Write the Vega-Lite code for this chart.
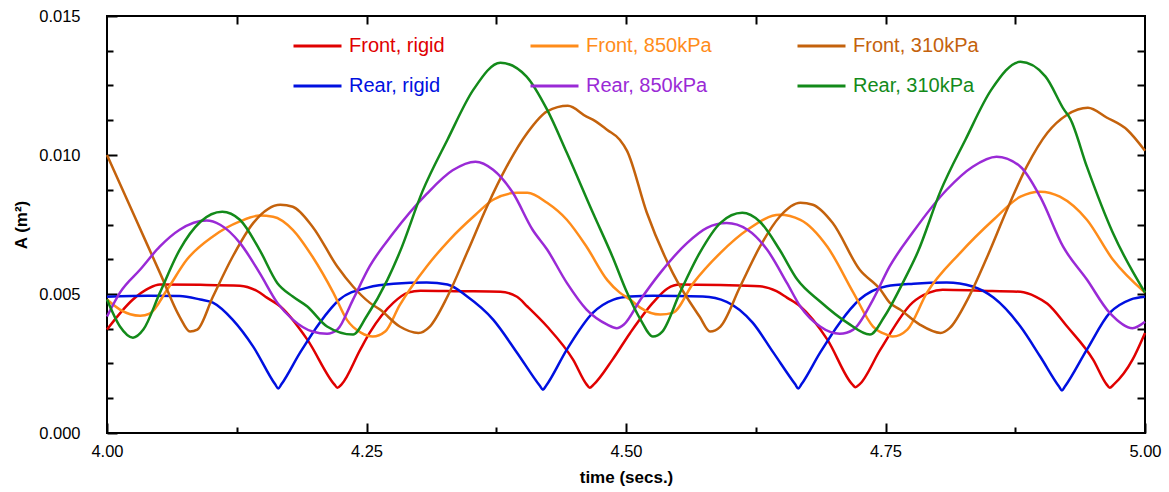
{
"$schema": "https://vega.github.io/schema/vega-lite/v6.json",
"width": 1038, "height": 417,
"autosize": {"type": "none"},
"padding": {"left": 107, "top": 16, "right": 24, "bottom": 59},
"background": "white",
"config": {
  "view": {"stroke": "black", "strokeWidth": 2},
  "font": "Liberation Sans",
  "axis": {"grid": false, "domain": false, "tickColor": "black", "tickWidth": 2, "labelFont": "Liberation Sans", "labelFontSize": 16.5, "labelColor": "black", "labelFlush": false, "titleFont": "Liberation Sans", "titleFontSize": 17, "titleFontWeight": "bold", "titleColor": "black"}
},
"data": {"values": [
{"s":"Front, rigid","t":4.000,"A":0.00372},{"s":"Front, rigid","t":4.025,"A":0.00480},{"s":"Front, rigid","t":4.040,"A":0.00520},{"s":"Front, rigid","t":4.051,"A":0.00534},{"s":"Front, rigid","t":4.090,"A":0.00533},{"s":"Front, rigid","t":4.128,"A":0.00530},{"s":"Front, rigid","t":4.145,"A":0.00510},{"s":"Front, rigid","t":4.154,"A":0.00487},{"s":"Front, rigid","t":4.167,"A":0.00455},{"s":"Front, rigid","t":4.193,"A":0.00336},{"s":"Front, rigid","t":4.219,"A":0.00175},{"s":"Front, rigid","t":4.222,"A":0.00163},{"s":"Front, rigid","t":4.226,"A":0.00175},{"s":"Front, rigid","t":4.244,"A":0.00300},{"s":"Front, rigid","t":4.253,"A":0.00360},{"s":"Front, rigid","t":4.276,"A":0.00469},{"s":"Front, rigid","t":4.290,"A":0.00505},{"s":"Front, rigid","t":4.302,"A":0.00512},{"s":"Front, rigid","t":4.340,"A":0.00510},{"s":"Front, rigid","t":4.379,"A":0.00508},{"s":"Front, rigid","t":4.395,"A":0.00490},{"s":"Front, rigid","t":4.405,"A":0.00455},{"s":"Front, rigid","t":4.424,"A":0.00383},{"s":"Front, rigid","t":4.449,"A":0.00264},{"s":"Front, rigid","t":4.462,"A":0.00175},{"s":"Front, rigid","t":4.465,"A":0.00163},{"s":"Front, rigid","t":4.469,"A":0.00175},{"s":"Front, rigid","t":4.487,"A":0.00264},{"s":"Front, rigid","t":4.504,"A":0.00360},{"s":"Front, rigid","t":4.526,"A":0.00469},{"s":"Front, rigid","t":4.540,"A":0.00520},{"s":"Front, rigid","t":4.552,"A":0.00534},{"s":"Front, rigid","t":4.591,"A":0.00532},{"s":"Front, rigid","t":4.629,"A":0.00528},{"s":"Front, rigid","t":4.645,"A":0.00510},{"s":"Front, rigid","t":4.655,"A":0.00487},{"s":"Front, rigid","t":4.668,"A":0.00455},{"s":"Front, rigid","t":4.694,"A":0.00336},{"s":"Front, rigid","t":4.718,"A":0.00175},{"s":"Front, rigid","t":4.721,"A":0.00165},{"s":"Front, rigid","t":4.725,"A":0.00175},{"s":"Front, rigid","t":4.745,"A":0.00300},{"s":"Front, rigid","t":4.776,"A":0.00469},{"s":"Front, rigid","t":4.792,"A":0.00505},{"s":"Front, rigid","t":4.805,"A":0.00515},{"s":"Front, rigid","t":4.841,"A":0.00512},{"s":"Front, rigid","t":4.880,"A":0.00508},{"s":"Front, rigid","t":4.895,"A":0.00490},{"s":"Front, rigid","t":4.906,"A":0.00465},{"s":"Front, rigid","t":4.925,"A":0.00383},{"s":"Front, rigid","t":4.950,"A":0.00264},{"s":"Front, rigid","t":4.963,"A":0.00175},{"s":"Front, rigid","t":4.966,"A":0.00163},{"s":"Front, rigid","t":4.970,"A":0.00175},{"s":"Front, rigid","t":4.988,"A":0.00264},{"s":"Front, rigid","t":5.000,"A":0.00360},
{"s":"Rear, rigid","t":4.000,"A":0.00490},{"s":"Rear, rigid","t":4.040,"A":0.00494},{"s":"Rear, rigid","t":4.070,"A":0.00493},{"s":"Rear, rigid","t":4.090,"A":0.00480},{"s":"Rear, rigid","t":4.102,"A":0.00469},{"s":"Rear, rigid","t":4.121,"A":0.00408},{"s":"Rear, rigid","t":4.141,"A":0.00310},{"s":"Rear, rigid","t":4.162,"A":0.00175},{"s":"Rear, rigid","t":4.165,"A":0.00160},{"s":"Rear, rigid","t":4.168,"A":0.00175},{"s":"Rear, rigid","t":4.186,"A":0.00289},{"s":"Rear, rigid","t":4.205,"A":0.00397},{"s":"Rear, rigid","t":4.224,"A":0.00480},{"s":"Rear, rigid","t":4.251,"A":0.00523},{"s":"Rear, rigid","t":4.276,"A":0.00537},{"s":"Rear, rigid","t":4.308,"A":0.00541},{"s":"Rear, rigid","t":4.328,"A":0.00534},{"s":"Rear, rigid","t":4.347,"A":0.00491},{"s":"Rear, rigid","t":4.372,"A":0.00408},{"s":"Rear, rigid","t":4.395,"A":0.00289},{"s":"Rear, rigid","t":4.417,"A":0.00170},{"s":"Rear, rigid","t":4.420,"A":0.00156},{"s":"Rear, rigid","t":4.423,"A":0.00170},{"s":"Rear, rigid","t":4.443,"A":0.00300},{"s":"Rear, rigid","t":4.468,"A":0.00432},{"s":"Rear, rigid","t":4.488,"A":0.00480},{"s":"Rear, rigid","t":4.504,"A":0.00491},{"s":"Rear, rigid","t":4.526,"A":0.00494},{"s":"Rear, rigid","t":4.574,"A":0.00491},{"s":"Rear, rigid","t":4.597,"A":0.00472},{"s":"Rear, rigid","t":4.622,"A":0.00397},{"s":"Rear, rigid","t":4.642,"A":0.00289},{"s":"Rear, rigid","t":4.663,"A":0.00175},{"s":"Rear, rigid","t":4.666,"A":0.00160},{"s":"Rear, rigid","t":4.669,"A":0.00175},{"s":"Rear, rigid","t":4.687,"A":0.00289},{"s":"Rear, rigid","t":4.706,"A":0.00397},{"s":"Rear, rigid","t":4.725,"A":0.00480},{"s":"Rear, rigid","t":4.751,"A":0.00528},{"s":"Rear, rigid","t":4.777,"A":0.00537},{"s":"Rear, rigid","t":4.809,"A":0.00541},{"s":"Rear, rigid","t":4.834,"A":0.00527},{"s":"Rear, rigid","t":4.854,"A":0.00487},{"s":"Rear, rigid","t":4.880,"A":0.00383},{"s":"Rear, rigid","t":4.899,"A":0.00275},{"s":"Rear, rigid","t":4.917,"A":0.00168},{"s":"Rear, rigid","t":4.920,"A":0.00153},{"s":"Rear, rigid","t":4.923,"A":0.00168},{"s":"Rear, rigid","t":4.944,"A":0.00300},{"s":"Rear, rigid","t":4.966,"A":0.00432},{"s":"Rear, rigid","t":4.986,"A":0.00480},{"s":"Rear, rigid","t":5.000,"A":0.00490},
{"s":"Front, 850kPa","t":4.000,"A":0.00480},{"s":"Front, 850kPa","t":4.0125,"A":0.00444},{"s":"Front, 850kPa","t":4.032,"A":0.00422},{"s":"Front, 850kPa","t":4.041,"A":0.00429},{"s":"Front, 850kPa","t":4.058,"A":0.00516},{"s":"Front, 850kPa","t":4.077,"A":0.00624},{"s":"Front, 850kPa","t":4.102,"A":0.00707},{"s":"Front, 850kPa","t":4.128,"A":0.00761},{"s":"Front, 850kPa","t":4.147,"A":0.00782},{"s":"Front, 850kPa","t":4.160,"A":0.00778},{"s":"Front, 850kPa","t":4.179,"A":0.00731},{"s":"Front, 850kPa","t":4.198,"A":0.00634},{"s":"Front, 850kPa","t":4.218,"A":0.00505},{"s":"Front, 850kPa","t":4.231,"A":0.00408},{"s":"Front, 850kPa","t":4.245,"A":0.00360},{"s":"Front, 850kPa","t":4.256,"A":0.00347},{"s":"Front, 850kPa","t":4.268,"A":0.00365},{"s":"Front, 850kPa","t":4.282,"A":0.00460},{"s":"Front, 850kPa","t":4.308,"A":0.00599},{"s":"Front, 850kPa","t":4.330,"A":0.00695},{"s":"Front, 850kPa","t":4.355,"A":0.00785},{"s":"Front, 850kPa","t":4.372,"A":0.00839},{"s":"Front, 850kPa","t":4.395,"A":0.00864},{"s":"Front, 850kPa","t":4.405,"A":0.00864},{"s":"Front, 850kPa","t":4.424,"A":0.00828},{"s":"Front, 850kPa","t":4.443,"A":0.00767},{"s":"Front, 850kPa","t":4.462,"A":0.00670},{"s":"Front, 850kPa","t":4.482,"A":0.00550},{"s":"Front, 850kPa","t":4.494,"A":0.00505},{"s":"Front, 850kPa","t":4.504,"A":0.00480},{"s":"Front, 850kPa","t":4.514,"A":0.00450},{"s":"Front, 850kPa","t":4.533,"A":0.00426},{"s":"Front, 850kPa","t":4.545,"A":0.00432},{"s":"Front, 850kPa","t":4.565,"A":0.00540},{"s":"Front, 850kPa","t":4.591,"A":0.00648},{"s":"Front, 850kPa","t":4.617,"A":0.00731},{"s":"Front, 850kPa","t":4.648,"A":0.00785},{"s":"Front, 850kPa","t":4.668,"A":0.00767},{"s":"Front, 850kPa","t":4.694,"A":0.00670},{"s":"Front, 850kPa","t":4.719,"A":0.00505},{"s":"Front, 850kPa","t":4.738,"A":0.00383},{"s":"Front, 850kPa","t":4.751,"A":0.00354},{"s":"Front, 850kPa","t":4.757,"A":0.00347},{"s":"Front, 850kPa","t":4.771,"A":0.00372},{"s":"Front, 850kPa","t":4.790,"A":0.00505},{"s":"Front, 850kPa","t":4.822,"A":0.00648},{"s":"Front, 850kPa","t":4.854,"A":0.00767},{"s":"Front, 850kPa","t":4.880,"A":0.00850},{"s":"Front, 850kPa","t":4.899,"A":0.00868},{"s":"Front, 850kPa","t":4.918,"A":0.00850},{"s":"Front, 850kPa","t":4.944,"A":0.00767},{"s":"Front, 850kPa","t":4.969,"A":0.00624},{"s":"Front, 850kPa","t":5.000,"A":0.00505},
{"s":"Front, 310kPa","t":4.000,"A":0.01000},{"s":"Front, 310kPa","t":4.025,"A":0.00792},{"s":"Front, 310kPa","t":4.051,"A":0.00576},{"s":"Front, 310kPa","t":4.070,"A":0.00418},{"s":"Front, 310kPa","t":4.080,"A":0.00365},{"s":"Front, 310kPa","t":4.087,"A":0.00372},{"s":"Front, 310kPa","t":4.102,"A":0.00490},{"s":"Front, 310kPa","t":4.121,"A":0.00634},{"s":"Front, 310kPa","t":4.141,"A":0.00756},{"s":"Front, 310kPa","t":4.167,"A":0.00821},{"s":"Front, 310kPa","t":4.179,"A":0.00814},{"s":"Front, 310kPa","t":4.198,"A":0.00742},{"s":"Front, 310kPa","t":4.222,"A":0.00598},{"s":"Front, 310kPa","t":4.237,"A":0.00527},{"s":"Front, 310kPa","t":4.253,"A":0.00469},{"s":"Front, 310kPa","t":4.263,"A":0.00444},{"s":"Front, 310kPa","t":4.282,"A":0.00383},{"s":"Front, 310kPa","t":4.300,"A":0.00360},{"s":"Front, 310kPa","t":4.311,"A":0.00383},{"s":"Front, 310kPa","t":4.328,"A":0.00491},{"s":"Front, 310kPa","t":4.347,"A":0.00650},{"s":"Front, 310kPa","t":4.366,"A":0.00814},{"s":"Front, 310kPa","t":4.385,"A":0.00958},{"s":"Front, 310kPa","t":4.405,"A":0.01080},{"s":"Front, 310kPa","t":4.424,"A":0.01157},{"s":"Front, 310kPa","t":4.444,"A":0.01177},{"s":"Front, 310kPa","t":4.462,"A":0.01138},{"s":"Front, 310kPa","t":4.468,"A":0.01127},{"s":"Front, 310kPa","t":4.482,"A":0.01090},{"s":"Front, 310kPa","t":4.494,"A":0.01055},{"s":"Front, 310kPa","t":4.501,"A":0.01015},{"s":"Front, 310kPa","t":4.520,"A":0.00793},{"s":"Front, 310kPa","t":4.545,"A":0.00576},{"s":"Front, 310kPa","t":4.571,"A":0.00418},{"s":"Front, 310kPa","t":4.581,"A":0.00365},{"s":"Front, 310kPa","t":4.591,"A":0.00383},{"s":"Front, 310kPa","t":4.610,"A":0.00527},{"s":"Front, 310kPa","t":4.629,"A":0.00670},{"s":"Front, 310kPa","t":4.648,"A":0.00778},{"s":"Front, 310kPa","t":4.668,"A":0.00828},{"s":"Front, 310kPa","t":4.680,"A":0.00821},{"s":"Front, 310kPa","t":4.699,"A":0.00756},{"s":"Front, 310kPa","t":4.725,"A":0.00588},{"s":"Front, 310kPa","t":4.745,"A":0.00516},{"s":"Front, 310kPa","t":4.754,"A":0.00469},{"s":"Front, 310kPa","t":4.764,"A":0.00444},{"s":"Front, 310kPa","t":4.783,"A":0.00390},{"s":"Front, 310kPa","t":4.803,"A":0.00360},{"s":"Front, 310kPa","t":4.812,"A":0.00378},{"s":"Front, 310kPa","t":4.829,"A":0.00480},{"s":"Front, 310kPa","t":4.848,"A":0.00634},{"s":"Front, 310kPa","t":4.867,"A":0.00803},{"s":"Front, 310kPa","t":4.886,"A":0.00958},{"s":"Front, 310kPa","t":4.906,"A":0.01080},{"s":"Front, 310kPa","t":4.925,"A":0.01145},{"s":"Front, 310kPa","t":4.945,"A":0.01170},{"s":"Front, 310kPa","t":4.963,"A":0.01135},{"s":"Front, 310kPa","t":4.983,"A":0.01090},{"s":"Front, 310kPa","t":5.000,"A":0.01015},
{"s":"Rear, 850kPa","t":4.000,"A":0.00419},{"s":"Rear, 850kPa","t":4.0125,"A":0.00505},{"s":"Rear, 850kPa","t":4.032,"A":0.00588},{"s":"Rear, 850kPa","t":4.051,"A":0.00671},{"s":"Rear, 850kPa","t":4.070,"A":0.00731},{"s":"Rear, 850kPa","t":4.096,"A":0.00764},{"s":"Rear, 850kPa","t":4.109,"A":0.00749},{"s":"Rear, 850kPa","t":4.128,"A":0.00684},{"s":"Rear, 850kPa","t":4.147,"A":0.00576},{"s":"Rear, 850kPa","t":4.164,"A":0.00469},{"s":"Rear, 850kPa","t":4.179,"A":0.00408},{"s":"Rear, 850kPa","t":4.198,"A":0.00365},{"s":"Rear, 850kPa","t":4.212,"A":0.00357},{"s":"Rear, 850kPa","t":4.222,"A":0.00372},{"s":"Rear, 850kPa","t":4.237,"A":0.00480},{"s":"Rear, 850kPa","t":4.253,"A":0.00599},{"s":"Rear, 850kPa","t":4.276,"A":0.00720},{"s":"Rear, 850kPa","t":4.308,"A":0.00860},{"s":"Rear, 850kPa","t":4.333,"A":0.00945},{"s":"Rear, 850kPa","t":4.355,"A":0.00976},{"s":"Rear, 850kPa","t":4.372,"A":0.00947},{"s":"Rear, 850kPa","t":4.391,"A":0.00864},{"s":"Rear, 850kPa","t":4.410,"A":0.00731},{"s":"Rear, 850kPa","t":4.424,"A":0.00660},{"s":"Rear, 850kPa","t":4.443,"A":0.00540},{"s":"Rear, 850kPa","t":4.462,"A":0.00444},{"s":"Rear, 850kPa","t":4.482,"A":0.00390},{"s":"Rear, 850kPa","t":4.491,"A":0.00377},{"s":"Rear, 850kPa","t":4.498,"A":0.00390},{"s":"Rear, 850kPa","t":4.514,"A":0.00480},{"s":"Rear, 850kPa","t":4.533,"A":0.00576},{"s":"Rear, 850kPa","t":4.559,"A":0.00684},{"s":"Rear, 850kPa","t":4.578,"A":0.00738},{"s":"Rear, 850kPa","t":4.597,"A":0.00755},{"s":"Rear, 850kPa","t":4.617,"A":0.00731},{"s":"Rear, 850kPa","t":4.636,"A":0.00659},{"s":"Rear, 850kPa","t":4.655,"A":0.00540},{"s":"Rear, 850kPa","t":4.668,"A":0.00455},{"s":"Rear, 850kPa","t":4.687,"A":0.00383},{"s":"Rear, 850kPa","t":4.706,"A":0.00357},{"s":"Rear, 850kPa","t":4.719,"A":0.00372},{"s":"Rear, 850kPa","t":4.738,"A":0.00480},{"s":"Rear, 850kPa","t":4.754,"A":0.00599},{"s":"Rear, 850kPa","t":4.776,"A":0.00720},{"s":"Rear, 850kPa","t":4.809,"A":0.00875},{"s":"Rear, 850kPa","t":4.834,"A":0.00958},{"s":"Rear, 850kPa","t":4.857,"A":0.00994},{"s":"Rear, 850kPa","t":4.880,"A":0.00958},{"s":"Rear, 850kPa","t":4.899,"A":0.00850},{"s":"Rear, 850kPa","t":4.921,"A":0.00671},{"s":"Rear, 850kPa","t":4.944,"A":0.00552},{"s":"Rear, 850kPa","t":4.966,"A":0.00432},{"s":"Rear, 850kPa","t":4.988,"A":0.00377},{"s":"Rear, 850kPa","t":5.000,"A":0.00400},
{"s":"Rear, 310kPa","t":4.000,"A":0.00480},{"s":"Rear, 310kPa","t":4.0125,"A":0.00383},{"s":"Rear, 310kPa","t":4.025,"A":0.00343},{"s":"Rear, 310kPa","t":4.035,"A":0.00372},{"s":"Rear, 310kPa","t":4.051,"A":0.00505},{"s":"Rear, 310kPa","t":4.070,"A":0.00659},{"s":"Rear, 310kPa","t":4.090,"A":0.00760},{"s":"Rear, 310kPa","t":4.111,"A":0.00796},{"s":"Rear, 310kPa","t":4.128,"A":0.00767},{"s":"Rear, 310kPa","t":4.147,"A":0.00659},{"s":"Rear, 310kPa","t":4.164,"A":0.00540},{"s":"Rear, 310kPa","t":4.179,"A":0.00491},{"s":"Rear, 310kPa","t":4.193,"A":0.00455},{"s":"Rear, 310kPa","t":4.212,"A":0.00383},{"s":"Rear, 310kPa","t":4.237,"A":0.00354},{"s":"Rear, 310kPa","t":4.250,"A":0.00419},{"s":"Rear, 310kPa","t":4.270,"A":0.00550},{"s":"Rear, 310kPa","t":4.282,"A":0.00650},{"s":"Rear, 310kPa","t":4.304,"A":0.00870},{"s":"Rear, 310kPa","t":4.328,"A":0.01055},{"s":"Rear, 310kPa","t":4.353,"A":0.01235},{"s":"Rear, 310kPa","t":4.379,"A":0.01332},{"s":"Rear, 310kPa","t":4.404,"A":0.01283},{"s":"Rear, 310kPa","t":4.424,"A":0.01163},{"s":"Rear, 310kPa","t":4.443,"A":0.01008},{"s":"Rear, 310kPa","t":4.468,"A":0.00793},{"s":"Rear, 310kPa","t":4.487,"A":0.00634},{"s":"Rear, 310kPa","t":4.501,"A":0.00505},{"s":"Rear, 310kPa","t":4.514,"A":0.00408},{"s":"Rear, 310kPa","t":4.526,"A":0.00347},{"s":"Rear, 310kPa","t":4.535,"A":0.00365},{"s":"Rear, 310kPa","t":4.552,"A":0.00505},{"s":"Rear, 310kPa","t":4.571,"A":0.00648},{"s":"Rear, 310kPa","t":4.591,"A":0.00756},{"s":"Rear, 310kPa","t":4.612,"A":0.00792},{"s":"Rear, 310kPa","t":4.629,"A":0.00760},{"s":"Rear, 310kPa","t":4.648,"A":0.00659},{"s":"Rear, 310kPa","t":4.665,"A":0.00552},{"s":"Rear, 310kPa","t":4.687,"A":0.00473},{"s":"Rear, 310kPa","t":4.713,"A":0.00397},{"s":"Rear, 310kPa","t":4.735,"A":0.00354},{"s":"Rear, 310kPa","t":4.749,"A":0.00419},{"s":"Rear, 310kPa","t":4.768,"A":0.00550},{"s":"Rear, 310kPa","t":4.781,"A":0.00650},{"s":"Rear, 310kPa","t":4.803,"A":0.00870},{"s":"Rear, 310kPa","t":4.827,"A":0.01055},{"s":"Rear, 310kPa","t":4.852,"A":0.01235},{"s":"Rear, 310kPa","t":4.880,"A":0.01335},{"s":"Rear, 310kPa","t":4.904,"A":0.01283},{"s":"Rear, 310kPa","t":4.922,"A":0.01163},{"s":"Rear, 310kPa","t":4.928,"A":0.01130},{"s":"Rear, 310kPa","t":4.944,"A":0.00958},{"s":"Rear, 310kPa","t":4.969,"A":0.00720},{"s":"Rear, 310kPa","t":5.000,"A":0.00505}
]},
"layer": [
  {
    "mark": {"type": "line", "strokeWidth": 2.5, "interpolate": "monotone"},
    "encoding": {
      "x": {"field": "t", "type": "quantitative", "scale": {"domain": [4, 5], "nice": false, "zero": false},
            "axis": {"orient": "bottom", "values": [4, 4.25, 4.5, 4.75, 5], "format": ".2f", "tickSize": -10, "labelPadding": 20, "title": "time (secs.)", "titlePadding": 10}},
      "y": {"field": "A", "type": "quantitative", "scale": {"domain": [0, 0.015], "nice": false},
            "axis": {"orient": "left", "values": [0, 0.005, 0.01, 0.015], "format": ".3f", "tickSize": -10, "labelPadding": 37, "title": "A (m²)", "titlePadding": 8}},
      "color": {"field": "s", "type": "nominal",
        "scale": {"domain": ["Front, rigid", "Front, 850kPa", "Front, 310kPa", "Rear, rigid", "Rear, 850kPa", "Rear, 310kPa"],
                  "range": ["#e00000", "#ff8c1a", "#c4620c", "#0010e0", "#9a2ad6", "#138a1a"]},
        "legend": {"title": null, "orient": "none", "direction": "horizontal", "legendX": 185, "legendY": 20, "columns": 3, "padding": 0,
                   "columnPadding": 84, "rowPadding": 20, "symbolType": "stroke", "symbolSize": 2304, "symbolStrokeWidth": 3,
                   "clipHeight": 20, "labelOffset": 6, "labelFont": "Liberation Sans", "labelFontSize": 20,
                   "encode": {"labels": {"update": {"fill": {"scale": "color", "field": "value"}}}}}}
    }
  },
  {
    "mark": {"type": "point", "opacity": 0},
    "encoding": {
      "x": {"field": "t", "type": "quantitative", "axis": {"orient": "bottom", "values": [4.125, 4.375, 4.625, 4.875], "tickSize": -6, "labels": false, "title": null}},
      "y": {"field": "A", "type": "quantitative", "axis": {"orient": "left", "values": [0.00125, 0.0025, 0.00375, 0.00625, 0.0075, 0.00875, 0.01125, 0.0125, 0.01375], "tickSize": -6, "labels": false, "title": null}}
    }
  },
  {
    "mark": {"type": "point", "opacity": 0},
    "encoding": {
      "x": {"field": "t", "type": "quantitative", "axis": {"orient": "top", "values": [4.125, 4.25, 4.375, 4.5, 4.625, 4.75, 4.875], "tickSize": -8, "labels": false, "title": null}},
      "y": {"field": "A", "type": "quantitative", "axis": {"orient": "right", "values": [0.00125, 0.0025, 0.00375, 0.005, 0.00625, 0.0075, 0.00875, 0.01, 0.01125, 0.0125, 0.01375], "tickSize": -8, "labels": false, "title": null}}
    }
  }
],
"resolve": {"axis": {"x": "independent", "y": "independent"}}
}
